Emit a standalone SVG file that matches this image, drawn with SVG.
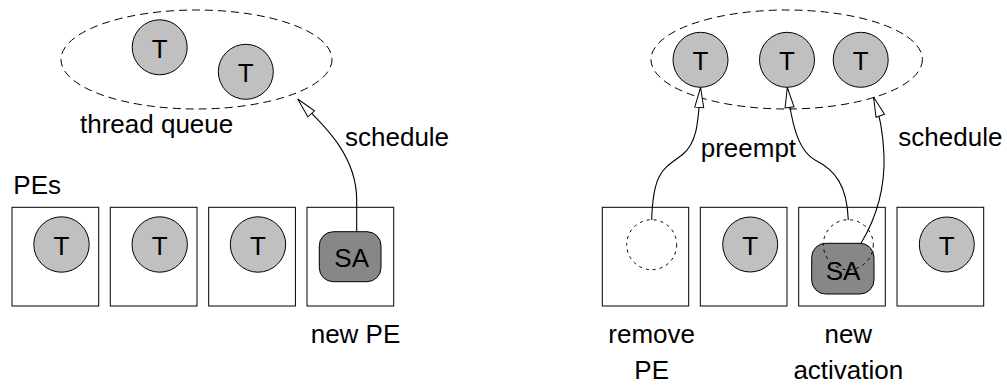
<svg xmlns="http://www.w3.org/2000/svg" width="1007" height="386" viewBox="0 0 1007 386">
<style>
text{font-family:"Liberation Sans",Arial,sans-serif;font-size:26px;fill:#000}
.lbl{text-anchor:middle}
.box{fill:#fff;stroke:#000;stroke-width:1}
.t{fill:#c0c0c0;stroke:#000;stroke-width:1}
.sa{fill:#878787;stroke:#000;stroke-width:1}
.q{fill:none;stroke:#000;stroke-width:1;stroke-dasharray:8 5}
.gone{fill:none;stroke:#000;stroke-width:1;stroke-dasharray:3 4}
.edge{fill:none;stroke:#000;stroke-width:1.1;marker-end:url(#hollow)}
</style>
<defs>
<marker id="hollow" markerUnits="userSpaceOnUse" markerWidth="24" markerHeight="14" viewBox="-2 -7 24 14" refX="20" refY="0" orient="auto">
<path d="M0,-4.5 L20,0 L0,4.5 Z" fill="#fff" stroke="#000" stroke-width="1"/>
</marker>
</defs>
<rect width="1007" height="386" fill="#fff"/>

<g id="queue-left">
<ellipse class="q" cx="196.5" cy="59.5" rx="135.5" ry="49.5"/>
<text x="80" y="133">thread queue</text>
</g>
<g id="qt-left-1"><circle class="t" cx="159.7" cy="47.3" r="27.5"/><text class="lbl" x="159.7" y="57.8">T</text></g>
<g id="qt-left-2"><circle class="t" cx="245.8" cy="71.8" r="27.5"/><text class="lbl" x="245.8" y="82.3">T</text></g>

<g id="pes-label"><text x="13.3" y="194">PEs</text></g>
<g id="pe-left-1"><rect class="box" x="12" y="207.3" width="86.7" height="98.7"/><circle class="t" cx="61.5" cy="244.5" r="27.7"/><text class="lbl" x="61.5" y="255">T</text></g>
<g id="pe-left-2"><rect class="box" x="110.3" y="207.3" width="86.7" height="98.7"/><circle class="t" cx="159.7" cy="244.5" r="27.7"/><text class="lbl" x="159.7" y="255">T</text></g>
<g id="pe-left-3"><rect class="box" x="208.7" y="207.3" width="86.7" height="98.7"/><circle class="t" cx="258" cy="244.5" r="27.7"/><text class="lbl" x="258" y="255">T</text></g>
<g id="pe-left-4"><rect class="box" x="307" y="207.3" width="86.7" height="98.7"/><rect class="sa" x="319.3" y="231.7" width="61.7" height="50" rx="14"/><text class="lbl" x="351.7" y="266.5">SA</text><text x="310.7" y="342.5">new PE</text></g>

<g id="queue-right">
<ellipse class="q" cx="786.7" cy="59.5" rx="135.7" ry="49.5"/>
</g>
<g id="qt-right-1"><circle class="t" cx="700.5" cy="59.8" r="27.5"/><text class="lbl" x="700.5" y="70.3">T</text></g>
<g id="qt-right-2"><circle class="t" cx="787" cy="59.8" r="27.5"/><text class="lbl" x="787" y="70.3">T</text></g>
<g id="qt-right-3"><circle class="t" cx="860.7" cy="59.8" r="27.5"/><text class="lbl" x="860.7" y="70.3">T</text></g>

<g id="pe-right-1"><rect class="box" x="602.3" y="207.3" width="86.4" height="98.7"/><circle class="gone" cx="651.7" cy="244.7" r="25"/><text class="lbl" x="651.7" y="342.5">remove</text><text class="lbl" x="651.7" y="379">PE</text></g>
<g id="pe-right-2"><rect class="box" x="700.3" y="207.3" width="86.7" height="98.7"/><circle class="t" cx="750.2" cy="244.5" r="27.5"/><text class="lbl" x="750.2" y="255">T</text></g>
<g id="pe-right-3"><rect class="box" x="798.7" y="207.3" width="86.6" height="98.7"/><rect class="sa" x="811.7" y="243.3" width="62.3" height="50.7" rx="14"/><text class="lbl" x="843" y="280">SA</text><circle class="gone" cx="848.3" cy="244.7" r="25"/><text class="lbl" x="848.3" y="342.5">new</text><text class="lbl" x="848.3" y="379">activation</text></g>
<g id="pe-right-4"><rect class="box" x="897" y="207.3" width="86.7" height="98.7"/><circle class="t" cx="946.8" cy="244.5" r="27.5"/><text class="lbl" x="946.8" y="255">T</text></g>

<g id="connectors">
<path class="edge" d="M356.7,231.7 L356.7,200 C356.7,150 315,118 297.7,99"/>
<text x="345" y="146">schedule</text>
<path class="edge" d="M651.7,220 C653,170 665,168 682,155 C697,143 698,125 700.6,87.5"/>
<path class="edge" d="M848.3,220 C847,185 835,170 815,160 C797,150 791,120 787.3,87.5"/>
<text x="700.7" y="156.7">preempt</text>
<path class="edge" d="M861,243.3 C878,215 885,185 884,155 C883,130 880,115 873.5,97"/>
<text x="898.3" y="146">schedule</text>
</g>
</svg>
